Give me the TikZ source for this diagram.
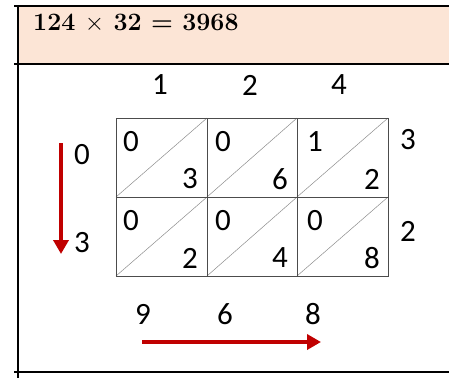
\documentclass[tikz,border=0pt]{standalone}
\usepackage{fontspec}
\newfontfamily\digitfont{Carlito}
\usepackage{xcolor}
\usetikzlibrary{arrows.meta,positioning,calc}
\definecolor{headfill}{RGB}{252,229,214}
\definecolor{arrowred}{RGB}{192,0,0}

\begin{document}
\begin{tikzpicture}[
  x=1pt, y=-1pt,
  digit/.style={font=\digitfont\fontsize{31pt}{36pt}\selectfont, inner sep=0pt},
  frame/.style={draw=black, line width=1.2pt},
  gridline/.style={draw=black!70, line width=0.9pt},
  diag/.style={draw=black!45, line width=0.5pt},
  redarrow/.style={draw=arrowred, line width=4pt, -{Triangle[length=14pt, width=15pt]}},
]
  \useasboundingbox (0,0) rectangle (449,378);

  % header band
  \fill[headfill] (18,6) rectangle (449,64);
  \draw[frame] (14,6) -- (449,6);
  \draw[frame] (14,64) -- (449,64);
  \draw[frame] (14,372) -- (449,372);
  \draw[frame] (18,6) -- (18,378);
  \node[anchor=west, inner sep=0pt, font=\fontsize{25pt}{30pt}\selectfont\bfseries] (title)
    at (33,23) {124 $\times$ 32 = 3968};

  % lattice
  \foreach \xa/\xb in {116/207, 207/297, 297/388}
    \foreach \ya/\yb in {118/197, 197/276}
      \draw[diag] (\xa,\yb) -- (\xb,\ya);
  \draw[gridline] (116,118) rectangle (388,276);
  \draw[gridline] (116,197) -- (388,197);
  \draw[gridline] (207,118) -- (207,276);
  \draw[gridline] (297,118) -- (297,276);

  % factor along the top
  \node[digit] (top1) at (160,85) {1};
  \node[digit] (top2) at (250,85) {2};
  \node[digit] (top4) at (339,85) {4};

  % factor along the right
  \node[digit] (right3) at (408,140) {3};
  \node[digit] (right2) at (408,231) {2};

  % partial products, tens / units
  \node[digit] (t11) at (131,142) {0};
  \node[digit] (u11) at (190,179) {3};
  \node[digit] (t12) at (223,142) {0};
  \node[digit] (u12) at (280,179) {6};
  \node[digit] (t13) at (315,142) {1};
  \node[digit] (u13) at (372,179) {2};
  \node[digit] (t21) at (131,221) {0};
  \node[digit] (u21) at (190,258) {2};
  \node[digit] (t22) at (223,221) {0};
  \node[digit] (u22) at (280,258) {4};
  \node[digit] (t23) at (315,221) {0};
  \node[digit] (u23) at (372,258) {8};

  % result, read down then across
  \node[digit] (left0) at (82,155) {0};
  \node[digit] (left3) at (82,243) {3};
  \node[digit] (res9) at (143,314) {9};
  \node[digit] (res6) at (225,314) {6};
  \node[digit] (res8) at (313,314) {8};

  \coordinate (downA) at (61,143);
  \coordinate (downB) at (61,254);
  \coordinate (rightA) at (142,342);
  \coordinate (rightB) at (321,342);
  \draw[redarrow] (downA) -- (downB);
  \draw[redarrow] (rightA) -- (rightB);
\end{tikzpicture}
\end{document}
